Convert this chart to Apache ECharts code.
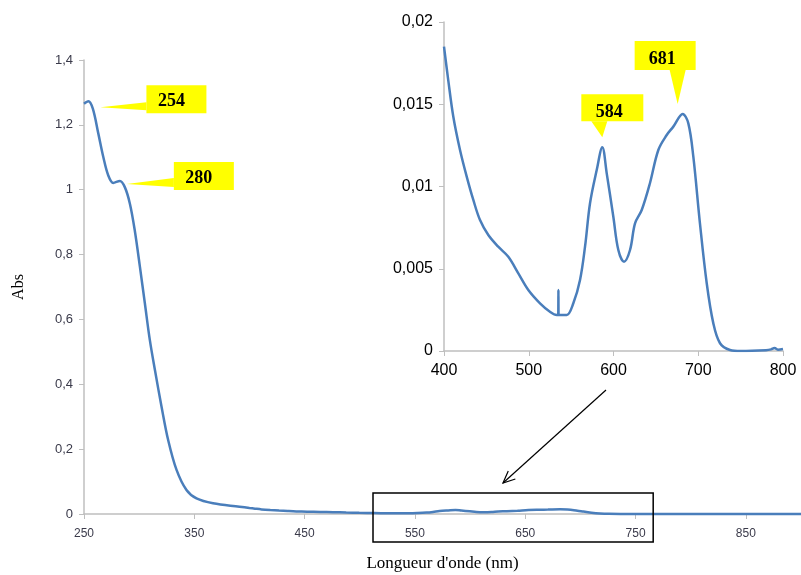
<!DOCTYPE html>
<html><head><meta charset="utf-8">
<script src="https://cdn.jsdelivr.net/npm/echarts@6/dist/echarts.min.js"></script>
<style>html,body{margin:0;padding:0;background:#fff}#c{width:801px;height:575px}</style>
</head><body><div id="c"></div>
<script>
// Main spectrum, UV region (nm, Abs)
var mainX = [250,254,258,263,267.5,272,276.5,282.5,287,291.6,296,300.7,305.2,309.7,314.3,320.3,326.3,333.9,342.9,352,367,391];
var mainY = [1.265,1.273,1.25,1.173,1.101,1.044,1.021,1.027,1.008,0.957,0.875,0.762,0.649,0.536,0.444,0.331,0.228,0.136,0.074,0.048,0.033,0.0225];
// Visible region (inset), nm and Abs
var insetX = [400,405,411,418.9,426.8,434.6,442.5,452.3,464,475.9,487.7,499.5,513.3,525,533,534.8,535,535.2,537,544.8,552.6,560.5,566.4,572.3,580.2,586.8,592,599.8,605.7,612.4,619.5,625.4,633.3,643,652.9,662.8,670.6,681.6,688.3,694.2,702,710,717.8,725.7,737.5,750,780,786,790,794,800];
var insetY = [0.0185,0.01647,0.01424,0.01222,0.0106,0.00918,0.00796,0.00705,0.00634,0.00573,0.00472,0.00371,0.0029,0.00239,0.00219,0.0022,0.00371,0.0022,0.00219,0.00219,0.0029,0.00432,0.00634,0.00898,0.011,0.01238,0.0108,0.00816,0.00614,0.00543,0.00614,0.00776,0.00857,0.0102,0.01222,0.01313,0.01364,0.01441,0.01384,0.01181,0.00776,0.00412,0.00168,0.00047,0.00006,0.0,0.00005,0.0001,0.00018,0.00008,0.00012];
// Tail beyond 800 nm
var tailX = [830,860,900];
var tailY = [0.0002,0.0002,0.0002];
// Peak labels
var peakLabels = ['254','280','584','681'];
var mainTicks = [250,350,450,550,650,750,850];

function pairs(xs, ys){ return xs.map(function(x,i){ return [x, ys[i]]; }); }
var mainData = pairs(mainX, mainY).concat(pairs(insetX, insetY)).concat(pairs(tailX, tailY));
var insetData = pairs(insetX, insetY);

var chart = echarts.init(document.getElementById('c'), null, {renderer:'canvas'});
var blue = '#4a7ebb';
var grayAxis = '#bfbfbf';

chart.setOption({
  animation: false,
  backgroundColor: '#fff',
  grid: [
    {left: 84, top: 60, right: 0, bottom: 61, outerBoundsMode:'none', containLabel:false},
    {left: 444, top: 22, width: 339, height: 329, outerBoundsMode:'none', containLabel:false}
  ],
  xAxis: [
    {gridIndex:0, type:'value', min:250, max:900, interval:100,
     name:"Longueur d'onde (nm)", nameLocation:'middle', nameGap:41,
     nameTextStyle:{fontFamily:'Liberation Serif', fontSize:17, color:'#000'},
     axisLine:{lineStyle:{color:grayAxis, width:1.5}},
     axisTick:{lineStyle:{color:grayAxis}, length:5},
     splitLine:{show:false},
     axisLabel:{showMaxLabel:false, fontFamily:'Liberation Sans', fontSize:12, color:'#3a3a4a', margin:14,
       formatter:function(v){ return mainTicks.indexOf(v) >= 0 ? String(v) : ''; }}},
    {gridIndex:1, type:'value', min:400, max:800, interval:100,
     axisLine:{lineStyle:{color:grayAxis, width:1.5}},
     axisTick:{lineStyle:{color:grayAxis}, length:5},
     splitLine:{show:false},
     axisLabel:{fontFamily:'Liberation Sans', fontSize:16, color:'#000', margin:12}}
  ],
  yAxis: [
    {gridIndex:0, type:'value', min:0, max:1.4, interval:0.2,
     name:'Abs', nameLocation:'middle', nameGap:57, nameRotate:90,
     nameTextStyle:{fontFamily:'Liberation Serif', fontSize:16, color:'#000'},
     axisLine:{show:true, lineStyle:{color:grayAxis, width:1.5}},
     axisTick:{show:true, lineStyle:{color:grayAxis}, length:5},
     splitLine:{show:false},
     axisLabel:{fontFamily:'Liberation Sans', fontSize:13, color:'#3a3a4a', margin:11,
       formatter:function(v){ return String(Math.round(v*10)/10).replace('.', ','); }}},
    {gridIndex:1, type:'value', min:0, max:0.02, interval:0.005,
     axisLine:{show:true, lineStyle:{color:grayAxis, width:1.5}},
     axisTick:{show:true, lineStyle:{color:grayAxis}, length:5},
     splitLine:{show:false},
     axisLabel:{fontFamily:'Liberation Sans', fontSize:16, color:'#000', margin:11,
       formatter:function(v){ return String(Math.round(v*1000)/1000).replace('.', ','); }}}
  ],
  series: [
    {type:'line', xAxisIndex:0, yAxisIndex:0, data:mainData, showSymbol:false, smooth:0.35,
     lineStyle:{color:blue, width:2.5}, clip:false},
    {type:'line', xAxisIndex:1, yAxisIndex:1, data:insetData, showSymbol:false, smooth:0.35,
     lineStyle:{color:blue, width:2.5}}
  ]
});

function px(grid, x, y){ return chart.convertToPixel({gridIndex:grid}, [x, y]); }

// Callouts anchored to peak data points
function calloutSide(tip, box, baseY0, baseY1, label){
  return [
    {type:'polygon', shape:{points:[[tip[0],tip[1]],[box.x,baseY0],[box.x,baseY1]]}, style:{fill:'#ffff00'}, z:10},
    {type:'rect', shape:{x:box.x, y:box.y, width:box.w, height:box.h}, style:{fill:'#ffff00'}, z:10},
    {type:'text', x:box.x+box.w/2-5, y:box.y+box.h/2+2, style:{text:label, fill:'#000', font:'bold 18px "Liberation Serif"', align:'center', verticalAlign:'middle'}, z:11}
  ];
}
function calloutDown(tip, box, baseX0, baseX1, label){
  return [
    {type:'polygon', shape:{points:[[tip[0],tip[1]],[baseX0,box.y+box.h],[baseX1,box.y+box.h]]}, style:{fill:'#ffff00'}, z:10},
    {type:'rect', shape:{x:box.x, y:box.y, width:box.w, height:box.h}, style:{fill:'#ffff00'}, z:10},
    {type:'text', x:box.x+box.w/2-3, y:box.y+box.h/2+4, style:{text:label, fill:'#000', font:'bold 18px "Liberation Serif"', align:'center', verticalAlign:'middle'}, z:11}
  ];
}

var g = [];
var p254 = px(0, 254, 1.273);
var t1 = [p254[0]+12, p254[1]+6];
g = g.concat(calloutSide(t1, {x:t1[0]+46, y:t1[1]-22, w:60, h:28}, t1[1]-5, t1[1]+3, peakLabels[0]));
var p280 = px(0, 282.5, 1.027);
var t2 = [p280[0]+7, p280[1]+3];
g = g.concat(calloutSide(t2, {x:t2[0]+47, y:t2[1]-22, w:60, h:28}, t2[1]-6, t2[1]+3, peakLabels[1]));
var p584 = px(1, 586.8, 0.01238);
var t3 = [p584[0], p584[1]-10];
g = g.concat(calloutDown(t3, {x:t3[0]-21, y:t3[1]-43, w:62, h:27}, t3[0]-11, t3[0]+5, peakLabels[2]));
var p681 = px(1, 681.6, 0.01441);
var t4 = [p681[0]-5, p681[1]-10];
g = g.concat(calloutDown(t4, {x:t4[0]-43, y:t4[1]-63, w:61, h:29}, t4[0]-8, t4[0]+8, peakLabels[3]));

// Zoom rectangle on the main chart (512–766 nm)
var r0 = px(0, 512, 0.065);
var r1 = px(0, 766, 0);
g.push({type:'rect', shape:{x:r0[0], y:r0[1], width:r1[0]-r0[0], height:(r1[1]+28)-r0[1]}, style:{fill:null, stroke:'#000', lineWidth:1.5}, z:5});

// Arrow from inset to rectangle
var a0 = [606, 390], a1 = [503, 483];
var ang = Math.atan2(a0[1]-a1[1], a0[0]-a1[0]);
var hl = 13, ha = 0.42;
g.push({type:'line', shape:{x1:a0[0], y1:a0[1], x2:a1[0], y2:a1[1]}, style:{stroke:'#000', lineWidth:1.2}, z:5});
g.push({type:'polyline', shape:{points:[
  [a1[0]+hl*Math.cos(ang-ha), a1[1]+hl*Math.sin(ang-ha)], a1,
  [a1[0]+hl*Math.cos(ang+ha), a1[1]+hl*Math.sin(ang+ha)]]}, style:{stroke:'#000', fill:null, lineWidth:1.2}, z:5});

chart.setOption({graphic:{elements:g}});
</script>
</body></html>
